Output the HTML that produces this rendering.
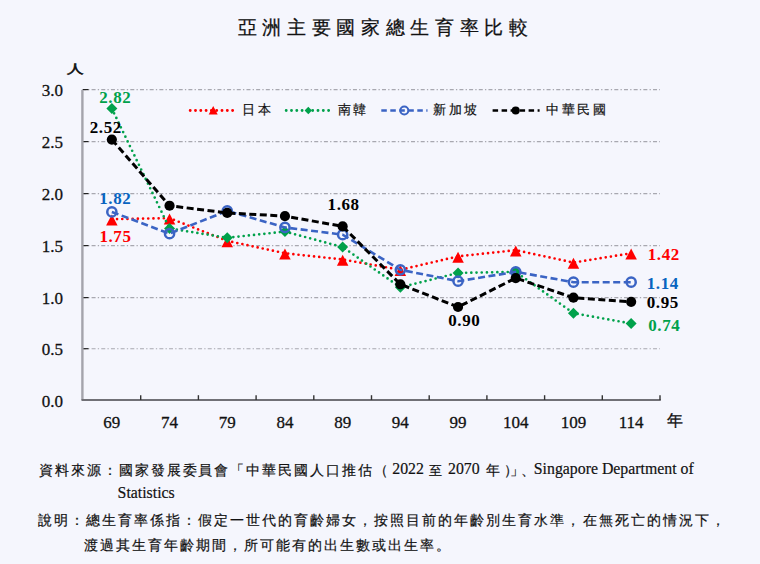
<!DOCTYPE html><html><head><meta charset="utf-8"><style>html,body{margin:0;padding:0;background:#f5f6fd;}svg{display:block}</style></head><body>
<svg width="760" height="564" viewBox="0 0 760 564" font-family="'Liberation Serif', serif">
<rect width="760" height="564" fill="#f5f6fd"/>
<text x="237.5" y="34.2" font-size="19" letter-spacing="5.7" fill="#111" stroke="#111" stroke-width="0.25">亞洲主要國家總生育率比較</text>
<text transform="translate(66.8,72.6) scale(1,0.72)" x="0" y="0" font-size="17" fill="#111" stroke="#111" stroke-width="0.8">人</text>
<line x1="81.9" y1="348.70" x2="660.0" y2="348.70" stroke="#a8a8b0" stroke-width="1.05" stroke-dasharray="4,2.2,1.3,2.18"/>
<line x1="83.0" y1="348.70" x2="88.5" y2="348.70" stroke="#222" stroke-width="1.2"/>
<line x1="81.9" y1="297.60" x2="660.0" y2="297.60" stroke="#a8a8b0" stroke-width="1.05" stroke-dasharray="4,2.2,1.3,2.18"/>
<line x1="83.0" y1="297.60" x2="88.5" y2="297.60" stroke="#222" stroke-width="1.2"/>
<line x1="81.9" y1="245.60" x2="660.0" y2="245.60" stroke="#a8a8b0" stroke-width="1.05" stroke-dasharray="4,2.2,1.3,2.18"/>
<line x1="83.0" y1="245.60" x2="88.5" y2="245.60" stroke="#222" stroke-width="1.2"/>
<line x1="81.9" y1="193.60" x2="660.0" y2="193.60" stroke="#a8a8b0" stroke-width="1.05" stroke-dasharray="4,2.2,1.3,2.18"/>
<line x1="83.0" y1="193.60" x2="88.5" y2="193.60" stroke="#222" stroke-width="1.2"/>
<line x1="81.9" y1="141.60" x2="660.0" y2="141.60" stroke="#a8a8b0" stroke-width="1.05" stroke-dasharray="4,2.2,1.3,2.18"/>
<line x1="83.0" y1="141.60" x2="88.5" y2="141.60" stroke="#222" stroke-width="1.2"/>
<line x1="81.9" y1="89.60" x2="660.0" y2="89.60" stroke="#a8a8b0" stroke-width="1.05" stroke-dasharray="4,2.2,1.3,2.18"/>
<line x1="83.0" y1="89.60" x2="88.5" y2="89.60" stroke="#222" stroke-width="1.2"/>
<text x="63" y="406.60" font-size="17" text-anchor="end" fill="#111" stroke="#111" stroke-width="0.28">0.0</text>
<text x="63" y="355.30" font-size="17" text-anchor="end" fill="#111" stroke="#111" stroke-width="0.28">0.5</text>
<text x="63" y="304.20" font-size="17" text-anchor="end" fill="#111" stroke="#111" stroke-width="0.28">1.0</text>
<text x="63" y="252.20" font-size="17" text-anchor="end" fill="#111" stroke="#111" stroke-width="0.28">1.5</text>
<text x="63" y="200.20" font-size="17" text-anchor="end" fill="#111" stroke="#111" stroke-width="0.28">2.0</text>
<text x="63" y="148.20" font-size="17" text-anchor="end" fill="#111" stroke="#111" stroke-width="0.28">2.5</text>
<text x="63" y="96.20" font-size="17" text-anchor="end" fill="#111" stroke="#111" stroke-width="0.28">3.0</text>
<line x1="82.4" y1="90.00" x2="82.4" y2="400.0" stroke="#a4a4ac" stroke-width="2.4"/>
<line x1="81.5" y1="400.0" x2="660.8" y2="400.0" stroke="#707076" stroke-width="2"/>
<line x1="140.70" y1="395.2" x2="140.70" y2="400.0" stroke="#333" stroke-width="1.4"/>
<line x1="198.40" y1="395.2" x2="198.40" y2="400.0" stroke="#333" stroke-width="1.4"/>
<line x1="256.10" y1="395.2" x2="256.10" y2="400.0" stroke="#333" stroke-width="1.4"/>
<line x1="313.80" y1="395.2" x2="313.80" y2="400.0" stroke="#333" stroke-width="1.4"/>
<line x1="371.50" y1="395.2" x2="371.50" y2="400.0" stroke="#333" stroke-width="1.4"/>
<line x1="429.20" y1="395.2" x2="429.20" y2="400.0" stroke="#333" stroke-width="1.4"/>
<line x1="486.90" y1="395.2" x2="486.90" y2="400.0" stroke="#333" stroke-width="1.4"/>
<line x1="544.60" y1="395.2" x2="544.60" y2="400.0" stroke="#333" stroke-width="1.4"/>
<line x1="602.30" y1="395.2" x2="602.30" y2="400.0" stroke="#333" stroke-width="1.4"/>
<line x1="660.00" y1="395.2" x2="660.00" y2="400.0" stroke="#333" stroke-width="1.4"/>
<text x="111.85" y="428" font-size="17" text-anchor="middle" fill="#111" stroke="#111" stroke-width="0.3">69</text>
<text x="169.55" y="428" font-size="17" text-anchor="middle" fill="#111" stroke="#111" stroke-width="0.3">74</text>
<text x="227.25" y="428" font-size="17" text-anchor="middle" fill="#111" stroke="#111" stroke-width="0.3">79</text>
<text x="284.95" y="428" font-size="17" text-anchor="middle" fill="#111" stroke="#111" stroke-width="0.3">84</text>
<text x="342.65" y="428" font-size="17" text-anchor="middle" fill="#111" stroke="#111" stroke-width="0.3">89</text>
<text x="400.35" y="428" font-size="17" text-anchor="middle" fill="#111" stroke="#111" stroke-width="0.3">94</text>
<text x="458.05" y="428" font-size="17" text-anchor="middle" fill="#111" stroke="#111" stroke-width="0.3">99</text>
<text x="515.75" y="428" font-size="17" text-anchor="middle" fill="#111" stroke="#111" stroke-width="0.3">104</text>
<text x="573.45" y="428" font-size="17" text-anchor="middle" fill="#111" stroke="#111" stroke-width="0.3">109</text>
<text x="631.15" y="428" font-size="17" text-anchor="middle" fill="#111" stroke="#111" stroke-width="0.3">114</text>
<text x="667" y="426" font-size="16" fill="#111" stroke="#111" stroke-width="0.3">年</text>
<polyline points="111.85,219.17 169.55,218.13 227.25,240.87 284.95,253.27 342.65,259.47 400.35,269.80 458.05,256.37 515.75,250.17 573.45,262.57 631.15,253.27" fill="none" stroke="#ff0000" stroke-width="2.7" stroke-dasharray="0,5.2" stroke-linecap="round"/>
<path d="M111.85,214.47 L117.60,225.47 L106.10,225.47 Z" fill="#ff0000"/>
<path d="M169.55,213.43 L175.30,224.43 L163.80,224.43 Z" fill="#ff0000"/>
<path d="M227.25,236.17 L233.00,247.17 L221.50,247.17 Z" fill="#ff0000"/>
<path d="M284.95,248.57 L290.70,259.57 L279.20,259.57 Z" fill="#ff0000"/>
<path d="M342.65,254.77 L348.40,265.77 L336.90,265.77 Z" fill="#ff0000"/>
<path d="M400.35,265.10 L406.10,276.10 L394.60,276.10 Z" fill="#ff0000"/>
<path d="M458.05,251.67 L463.80,262.67 L452.30,262.67 Z" fill="#ff0000"/>
<path d="M515.75,245.47 L521.50,256.47 L510.00,256.47 Z" fill="#ff0000"/>
<path d="M573.45,257.87 L579.20,268.87 L567.70,268.87 Z" fill="#ff0000"/>
<path d="M631.15,248.57 L636.90,259.57 L625.40,259.57 Z" fill="#ff0000"/>
<polyline points="111.85,108.60 169.55,228.47 227.25,237.77 284.95,231.57 342.65,247.07 400.35,287.37 458.05,272.90 515.75,271.87 573.45,313.20 631.15,323.53" fill="none" stroke="#00a14b" stroke-width="2.7" stroke-dasharray="0,5.2" stroke-linecap="round"/>
<path d="M111.85,103.10 L117.35,108.60 L111.85,114.10 L106.35,108.60 Z" fill="#00a14b"/>
<path d="M169.55,222.97 L175.05,228.47 L169.55,233.97 L164.05,228.47 Z" fill="#00a14b"/>
<path d="M227.25,232.27 L232.75,237.77 L227.25,243.27 L221.75,237.77 Z" fill="#00a14b"/>
<path d="M284.95,226.07 L290.45,231.57 L284.95,237.07 L279.45,231.57 Z" fill="#00a14b"/>
<path d="M342.65,241.57 L348.15,247.07 L342.65,252.57 L337.15,247.07 Z" fill="#00a14b"/>
<path d="M400.35,281.87 L405.85,287.37 L400.35,292.87 L394.85,287.37 Z" fill="#00a14b"/>
<path d="M458.05,267.40 L463.55,272.90 L458.05,278.40 L452.55,272.90 Z" fill="#00a14b"/>
<path d="M515.75,266.37 L521.25,271.87 L515.75,277.37 L510.25,271.87 Z" fill="#00a14b"/>
<path d="M573.45,307.70 L578.95,313.20 L573.45,318.70 L567.95,313.20 Z" fill="#00a14b"/>
<path d="M631.15,318.03 L636.65,323.53 L631.15,329.03 L625.65,323.53 Z" fill="#00a14b"/>
<polyline points="111.85,211.93 169.55,233.63 227.25,210.90 284.95,227.43 342.65,234.67 400.35,269.80 458.05,281.17 515.75,271.87 573.45,282.20 631.15,282.20" fill="none" stroke="#3b64c4" stroke-width="2.6" stroke-dasharray="7,3.5" stroke-linecap="butt"/>
<circle cx="111.85" cy="211.93" r="4.6" fill="none" stroke="#3b64c4" stroke-width="2.5"/>
<circle cx="169.55" cy="233.63" r="4.6" fill="none" stroke="#3b64c4" stroke-width="2.5"/>
<circle cx="227.25" cy="210.90" r="4.6" fill="none" stroke="#3b64c4" stroke-width="2.5"/>
<circle cx="284.95" cy="227.43" r="4.6" fill="none" stroke="#3b64c4" stroke-width="2.5"/>
<circle cx="342.65" cy="234.67" r="4.6" fill="none" stroke="#3b64c4" stroke-width="2.5"/>
<circle cx="400.35" cy="269.80" r="4.6" fill="none" stroke="#3b64c4" stroke-width="2.5"/>
<circle cx="458.05" cy="281.17" r="4.6" fill="none" stroke="#3b64c4" stroke-width="2.5"/>
<circle cx="515.75" cy="271.87" r="4.6" fill="none" stroke="#3b64c4" stroke-width="2.5"/>
<circle cx="573.45" cy="282.20" r="4.6" fill="none" stroke="#3b64c4" stroke-width="2.5"/>
<circle cx="631.15" cy="282.20" r="4.6" fill="none" stroke="#3b64c4" stroke-width="2.5"/>
<polyline points="111.85,139.60 169.55,205.73 227.25,212.97 284.95,216.07 342.65,226.40 400.35,284.27 458.05,307.00 515.75,278.07 573.45,297.70 631.15,301.83" fill="none" stroke="#000000" stroke-width="3" stroke-dasharray="7,3.5" stroke-linecap="butt"/>
<circle cx="111.85" cy="139.60" r="5.1" fill="#000"/>
<circle cx="169.55" cy="205.73" r="5.1" fill="#000"/>
<circle cx="227.25" cy="212.97" r="5.1" fill="#000"/>
<circle cx="284.95" cy="216.07" r="5.1" fill="#000"/>
<circle cx="342.65" cy="226.40" r="5.1" fill="#000"/>
<circle cx="400.35" cy="284.27" r="5.1" fill="#000"/>
<circle cx="458.05" cy="307.00" r="5.1" fill="#000"/>
<circle cx="515.75" cy="278.07" r="5.1" fill="#000"/>
<circle cx="573.45" cy="297.70" r="5.1" fill="#000"/>
<circle cx="631.15" cy="301.83" r="5.1" fill="#000"/>
<text x="115.3" y="103" font-size="17" font-weight="bold" letter-spacing="0.55" fill="#00a14b" text-anchor="middle">2.82</text>
<text x="105.8" y="133.2" font-size="17" font-weight="bold" letter-spacing="0.55" fill="#000000" text-anchor="middle">2.52</text>
<text x="115.3" y="204" font-size="17" font-weight="bold" letter-spacing="0.55" fill="#0864c0" text-anchor="middle">1.82</text>
<text x="115.5" y="241.8" font-size="17" font-weight="bold" letter-spacing="0.55" fill="#ff0000" text-anchor="middle">1.75</text>
<text x="343.6" y="210" font-size="17" font-weight="bold" letter-spacing="0.55" fill="#000000" text-anchor="middle">1.68</text>
<text x="464.3" y="326.4" font-size="17" font-weight="bold" letter-spacing="0.55" fill="#000000" text-anchor="middle">0.90</text>
<text x="647.8" y="260.4" font-size="17" font-weight="bold" letter-spacing="0.55" fill="#ff0000" text-anchor="start">1.42</text>
<text x="646.8" y="288.9" font-size="17" font-weight="bold" letter-spacing="0.55" fill="#0864c0" text-anchor="start">1.14</text>
<text x="646.8" y="308.2" font-size="17" font-weight="bold" letter-spacing="0.55" fill="#000000" text-anchor="start">0.95</text>
<text x="648.3" y="331" font-size="17" font-weight="bold" letter-spacing="0.55" fill="#00a14b" text-anchor="start">0.74</text>
<line x1="190.2" y1="110.5" x2="234.5" y2="110.5" stroke="#ff0000" stroke-width="2.9" stroke-dasharray="0,5.3" stroke-linecap="round"/>
<path d="M213.2,106 L217.7,114.5 L208.7,114.5 Z" fill="#ff0000"/>
<text x="242" y="113.8" font-size="13" letter-spacing="2.5" fill="#111" stroke="#111" stroke-width="0.2">日本</text>
<line x1="286.2" y1="110.5" x2="331" y2="110.5" stroke="#00a14b" stroke-width="2.9" stroke-dasharray="0,5.3" stroke-linecap="round"/>
<path d="M308.3,106.8 L312,110.5 L308.3,114.2 L304.6,110.5 Z" fill="#00a14b"/>
<text x="337.5" y="113.8" font-size="13" letter-spacing="2.5" fill="#111" stroke="#111" stroke-width="0.2">南韓</text>
<line x1="381.3" y1="110.5" x2="427.5" y2="110.5" stroke="#3b64c4" stroke-width="2.4" stroke-dasharray="5.5,3.5" stroke-linecap="butt"/>
<circle cx="404.3" cy="110.5" r="4" fill="none" stroke="#3b64c4" stroke-width="2"/>
<text x="433" y="113.8" font-size="13" letter-spacing="2.5" fill="#111" stroke="#111" stroke-width="0.2">新加坡</text>
<line x1="492.6" y1="110.5" x2="539.6" y2="110.5" stroke="#000000" stroke-width="2.6" stroke-dasharray="5.5,3.5" stroke-linecap="butt"/>
<circle cx="515.7" cy="110.5" r="4" fill="#000"/>
<text x="546" y="113.8" font-size="13" letter-spacing="2.5" fill="#111" stroke="#111" stroke-width="0.2">中華民國</text>
<text x="39" y="475" font-size="14" letter-spacing="1.95" fill="#111" stroke="#111" stroke-width="0.2">資料來源：國家發展委員會「中華民國人口推估（</text>
<text transform="translate(392.3,473.6) scale(0.905,1)" font-size="17.5" fill="#111" stroke="#111" stroke-width="0.2">2022</text>
<text x="429" y="475" font-size="13" fill="#111" stroke="#111" stroke-width="0.2">至</text>
<text transform="translate(448,473.6) scale(0.905,1)" font-size="17.5" fill="#111" stroke="#111" stroke-width="0.2">2070</text>
<text x="486" y="475" font-size="14" fill="#111" stroke="#111" stroke-width="0.2">年</text>
<text x="504" y="475" font-size="14" fill="#111" stroke="#111" stroke-width="0.2">）</text>
<text x="510" y="475" font-size="14" fill="#111" stroke="#111" stroke-width="0.2">」</text>
<text x="521" y="475" font-size="14" fill="#111" stroke="#111" stroke-width="0.2">、</text>
<text transform="translate(533.8,473.8) scale(0.905,1)" font-size="17.5" fill="#111" stroke="#111" stroke-width="0.2">Singapore Department of</text>
<text transform="translate(117.6,498) scale(0.905,1)" font-size="17.5" fill="#111" stroke="#111" stroke-width="0.2">Statistics</text>
<text x="37.5" y="524.5" font-size="14" letter-spacing="2.03" fill="#111" stroke="#111" stroke-width="0.2">說明：總生育率係指：假定一世代的育齡婦女，按照目前的年齡別生育水準，在無死亡的情況下，</text>
<text x="83.5" y="550" font-size="14" letter-spacing="2.03" fill="#111" stroke="#111" stroke-width="0.2">渡過其生育年齡期間，所可能有的出生數或出生率。</text>
</svg></body></html>
